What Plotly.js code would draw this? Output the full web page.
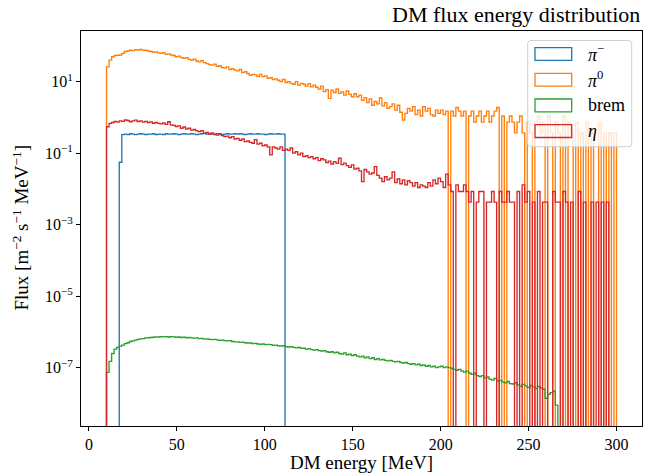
<!DOCTYPE html>
<html>
<head>
<meta charset="utf-8">
<script src="https://cdn.plot.ly/plotly-3.0.1.min.js"></script>
<style>html,body{margin:0;padding:0;background:#fff;}#chart{width:653px;height:475px;}</style>
</head>
<body>
<div id="chart"></div>
<script>
// ---------- DATA (histogram bins: 200 bins of 1.45 MeV from 10 MeV) ----------
const binStart = 10;
const binWidth = 1.45;
const nBins = 200;

const seriesNames = ["π⁻", "π⁰", "brem", "η"];

// pi^- : first non-zero bin index 5
const piMinusStartBin = 5;
const piMinus = [
  0.056,
  0.33,0.34,0.33,0.35,0.34,0.33,0.34,0.35,
  0.34,0.33,0.34,0.34,0.35,0.33,0.34,0.34,
  0.33,0.35,0.34,0.34,0.35,0.34,0.33,0.34,
  0.35,0.34,0.34,0.35,0.34,0.33,0.34,0.35,
  0.36,0.34,0.35,0.34,0.34,0.35,0.34,0.33,
  0.34,0.35,0.34,0.34,0.35,0.34,0.35,0.34,
  0.33,0.34,0.35,0.34,0.34,0.35,0.34,0.34,
  0.33,0.34,0.35,0.34,0.34,0.35,0.34,0.34
];

// pi^0 : bins 0..199
const piZero = [
  26,40,50,54,55,56,62,70,72,76,
  74,79,77,80,75,76,72,70,66,68,
  64,62,65,58,60,56,54,50,52,47,
  45,47,42,40,43,38,36,39,34,32,
  30,29,31,27,28,25,24,26,22,23,
  21,20,22,18,19,17,15,16,15.5,14,
  16,13.8,14.5,12.5,13,11.5,12,11,10,11.5,
  9.5,10,9,8.5,10,8,9,8.5,7.5,8.8,
  7.2,8.0,7.0,6.2,7.5,5.3,6.0,3.4,5.8,5.0,
  6.3,4.7,5.2,4.2,5.5,4.4,3.8,4.6,3.8,4.2,
  3.0,3.6,2.6,3.3,2.2,2.8,2.4,3.5,2.1,2.6,
  1.8,2.0,2.4,1.6,2.2,1.4,0.85,1.3,1.8,1.5,
  2.0,1.2,1.6,1.1,2.0,1.5,1.8,1.2,1.1,1.6,
  1.3,1.6,1.2,1.5,0,1.5,1.1,1.9,1.5,1.1,
  1.5,0,1.1,1.5,0.74,1.1,1.5,0.74,1.1,1.5,
  0.74,1.1,1.5,1.9,0,1.1,0,0.74,1.1,0.74,
  0.37,0.74,1.1,0.37,0,0.74,0.37,0,0.74,1.1,
  0.37,0.74,0,1.1,0.37,0,0.74,0.37,0,1.1,
  0,0.74,0.37,0,0.74,0,0.37,0,0.74,0,
  0.37,0,0,0.74,0,0.37,0,0.37,0,0.37
];

// brem : bins 0..176
const brem = [
  7.4e-8,1.5e-7,2.5e-7,3.3e-7,3.7e-7,4.0e-7,4.3e-7,4.7e-7,5.0e-7,5.4e-7,
  5.6e-7,5.9e-7,6.2e-7,6.4e-7,6.5e-7,6.8e-7,6.9e-7,7.0e-7,7.1e-7,7.3e-7,
  7.2e-7,7.4e-7,7.3e-7,7.4e-7,7.2e-7,7.4e-7,7.3e-7,7.1e-7,7.2e-7,7.0e-7,
  7.1e-7,6.9e-7,7.0e-7,6.8e-7,6.7e-7,6.8e-7,6.5e-7,6.6e-7,6.3e-7,6.4e-7,
  6.2e-7,6.1e-7,6.2e-7,6.0e-7,5.8e-7,5.9e-7,5.7e-7,5.6e-7,5.7e-7,5.4e-7,
  5.3e-7,5.3e-7,5.1e-7,5.2e-7,5.0e-7,4.9e-7,4.9e-7,4.7e-7,4.8e-7,4.6e-7,
  4.5e-7,4.6e-7,4.4e-7,4.5e-7,4.4e-7,4.2e-7,4.3e-7,4.1e-7,4.0e-7,4.1e-7,
  3.9e-7,3.8e-7,3.9e-7,3.7e-7,3.6e-7,3.7e-7,3.5e-7,3.5e-7,3.3e-7,3.4e-7,
  3.2e-7,3.1e-7,3.2e-7,3.0e-7,2.9e-7,3.0e-7,2.8e-7,2.7e-7,2.8e-7,2.6e-7,
  2.7e-7,2.5e-7,2.4e-7,2.6e-7,2.3e-7,2.4e-7,2.2e-7,2.3e-7,2.1e-7,2.0e-7,
  2.1e-7,1.9e-7,2.0e-7,1.8e-7,1.9e-7,1.7e-7,1.8e-7,1.65e-7,1.7e-7,1.6e-7,
  1.55e-7,1.6e-7,1.5e-7,1.45e-7,1.5e-7,1.4e-7,1.35e-7,1.4e-7,1.3e-7,1.25e-7,
  1.3e-7,1.2e-7,1.25e-7,1.15e-7,1.2e-7,1.1e-7,1.15e-7,1.05e-7,1.1e-7,1.0e-7,
  1.05e-7,1.1e-7,1.0e-7,1.05e-7,1.0e-7,9.5e-8,9.0e-8,8.5e-8,9.0e-8,8.0e-8,
  7.5e-8,8.0e-8,7.0e-8,6.5e-8,7.0e-8,6.0e-8,5.6e-8,6.0e-8,5.2e-8,5.5e-8,
  4.8e-8,4.5e-8,5.0e-8,4.2e-8,4.4e-8,4.0e-8,3.8e-8,4.1e-8,3.6e-8,3.5e-8,
  3.8e-8,3.3e-8,3.0e-8,3.4e-8,3.1e-8,2.8e-8,3.2e-8,2.9e-8,2.6e-8,3.0e-8,
  2.7e-8,2.5e-8,1.4e-8,1.8e-8,2.0e-8,2.2e-8,0.9e-8
];

// eta : bins 0..199
const eta = [
  0.55,0.68,0.72,0.77,0.74,0.8,0.78,0.85,0.82,0.76,
  0.8,0.84,0.77,0.8,0.74,0.78,0.72,0.75,0.69,0.72,
  0.68,0.66,0.7,0.64,0.76,0.62,0.6,0.56,0.58,0.5,
  0.54,0.47,0.5,0.44,0.46,0.42,0.4,0.43,0.36,0.38,
  0.34,0.37,0.33,0.32,0.35,0.31,0.29,0.3,0.27,0.29,
  0.25,0.26,0.23,0.25,0.21,0.22,0.2,0.19,0.24,0.18,
  0.19,0.16,0.17,0.15,0.09,0.15,0.14,0.13,0.15,0.12,
  0.13,0.12,0.14,0.1,0.11,0.09,0.1,0.08,0.085,0.075,
  0.08,0.07,0.075,0.062,0.07,0.065,0.055,0.06,0.05,0.058,
  0.052,0.072,0.048,0.053,0.045,0.04,0.047,0.036,0.038,0.032,
  0.016,0.035,0.03,0.026,0.028,0.042,0.024,0.02,0.016,0.022,
  0.018,0.02,0.03,0.015,0.019,0.014,0.018,0.013,0.017,0.015,
  0.012,0.015,0.011,0.013,0.012,0.011,0.015,0.012,0.018,0.014,
  0.02,0.016,0.011,0.026,0.013,0.0085,0,0.013,0.0085,0.0085,
  0.013,0.0085,0.0043,0.0085,0,0.0043,0.0085,0.0085,0,0.0043,
  0.0043,0.0085,0.0043,0,0.0085,0.0043,0.0043,0.0085,0.0043,0.0043,
  0,0.0085,0,0.013,0.0043,0.0085,0,0.0043,0,0.0085,
  0,0.0043,0.0043,0,0,0.0085,0.0043,0.0043,0,0.0085,
  0.0043,0,0.0043,0,0,0.0085,0,0.0043,0,0,
  0.0043,0,0.0043,0,0.0043,0,0.0043,0,0,0
];

const xTickVals = [0, 50, 100, 150, 200, 250, 300];
const yTickVals = [1e1, 1e-1, 1e-3, 1e-5, 1e-7];
const yTickText = ["10<sup>1</sup>", "10<sup>−1</sup>", "10<sup>−3</sup>", "10<sup>−5</sup>", "10<sup>−7</sup>"];

// ---------- DRAWING ----------
const colors = ["#1f77b4", "#ff7f0e", "#2ca02c", "#d62728"];
const FLOOR = 1e-14; // zero-count bins drop below the axis like matplotlib
const FONT = "Liberation Serif";

function edge(k) { return binStart + binWidth * k; }
function stepTrace(startBin, values, color, name) {
  const xs = [edge(startBin)], ys = [FLOOR];
  values.forEach((v, i) => { xs.push(edge(startBin + i)); ys.push(v > 0 ? v : FLOOR); });
  const last = values[values.length - 1];
  xs.push(edge(startBin + values.length)); ys.push(last > 0 ? last : FLOOR);
  xs.push(edge(startBin + values.length)); ys.push(FLOOR);
  return { type: "scatter", mode: "lines", x: xs, y: ys, name: name,
           line: { shape: "hv", color: color, width: 1.35 }, hoverinfo: "skip", showlegend: false };
}

const traces = [
  stepTrace(piMinusStartBin, piMinus, colors[0], seriesNames[0]),
  stepTrace(0, piZero, colors[1], seriesNames[1]),
  stepTrace(0, brem, colors[2], seriesNames[2]),
  stepTrace(0, eta, colors[3], seriesNames[3])
];

// plot area in pixels
const W = 653, H = 475, L = 81, R = 642, T = 31, B = 426;
const px2x = p => (p - L) / (R - L);
const py2y = p => (B - p) / (B - T);

// legend box (rounded)
function roundRect(x0, y0, x1, y1, r) {
  const P = (x, y) => px2x(x).toFixed(5) + "," + py2y(y).toFixed(5);
  return "M" + P(x0 + r, y0) + " L" + P(x1 - r, y0) + " Q" + P(x1, y0) + " " + P(x1, y0 + r) +
         " L" + P(x1, y1 - r) + " Q" + P(x1, y1) + " " + P(x1 - r, y1) +
         " L" + P(x0 + r, y1) + " Q" + P(x0, y1) + " " + P(x0, y1 - r) +
         " L" + P(x0, y0 + r) + " Q" + P(x0, y0) + " " + P(x0 + r, y0) + " Z";
}
const shapes = [{
  type: "path", xref: "paper", yref: "paper", layer: "above",
  path: roundRect(527.7, 40.5, 631.7, 146.7, 3),
  fillcolor: "rgba(255,255,255,0.8)", line: { color: "#d0d0d0", width: 1 }
}];
const legendLabels = ["<i>π</i><sup>−</sup>", "<i>π</i><sup>0</sup>", "brem", "<i>η</i>"];
const annotations = [];
legendLabels.forEach((lab, i) => {
  const cy = 54 + 25.7 * i;
  shapes.push({ type: "rect", xref: "paper", yref: "paper", layer: "above",
    x0: px2x(535), x1: px2x(571.7), y0: py2y(cy + 6.4), y1: py2y(cy - 6.4),
    fillcolor: "rgba(0,0,0,0)", line: { color: colors[i], width: 1.3 } });
  annotations.push({ xref: "paper", yref: "paper", x: px2x(585.5), y: py2y(cy),
    xanchor: "left", yanchor: "middle", showarrow: false, text: lab,
    font: { family: FONT, size: 18, color: "#000" } });
});
// title and axis labels
annotations.push({ xref: "paper", yref: "paper", x: 1, y: 1, xanchor: "right", yanchor: "bottom",
  yshift: 2, showarrow: false, text: "DM flux energy distribution",
  font: { family: FONT, size: 22, color: "#000" } });
annotations.push({ xref: "paper", yref: "paper", x: 0.5, y: 0, xanchor: "center", yanchor: "middle",
  yshift: -36, showarrow: false, text: "DM energy [MeV]",
  font: { family: FONT, size: 19, color: "#000" } });
annotations.push({ xref: "paper", yref: "paper", x: 0, y: 0.5, xanchor: "center", yanchor: "middle",
  xshift: -61, textangle: -90, showarrow: false,
  text: "Flux [m<sup>−2</sup> s<sup>−1</sup> MeV<sup>−1</sup>]",
  font: { family: FONT, size: 19, color: "#000" } });

const axisCommon = {
  showgrid: false, zeroline: false, showline: true, linecolor: "#000", linewidth: 1,
  mirror: true, ticks: "outside", ticklen: 4, tickwidth: 1, tickcolor: "#000",
  tickfont: { family: FONT, size: 16, color: "#000" }
};

const layout = {
  width: W, height: H,
  margin: { l: L, r: W - R, t: T, b: H - B, pad: 0 },
  paper_bgcolor: "#fff", plot_bgcolor: "#fff",
  showlegend: false,
  font: { family: FONT, color: "#000" },
  xaxis: Object.assign({}, axisCommon, { range: [-4.5, 314.5], tickmode: "array", tickvals: xTickVals,
    ticktext: xTickVals.map(String) }),
  yaxis: Object.assign({}, axisCommon, { type: "log", range: [-8.631, 2.418], tickmode: "array",
    tickvals: yTickVals, ticktext: yTickText }),
  shapes: shapes,
  annotations: annotations
};

Plotly.newPlot("chart", traces, layout, { staticPlot: true, displayModeBar: false });
</script>
</body>
</html>
